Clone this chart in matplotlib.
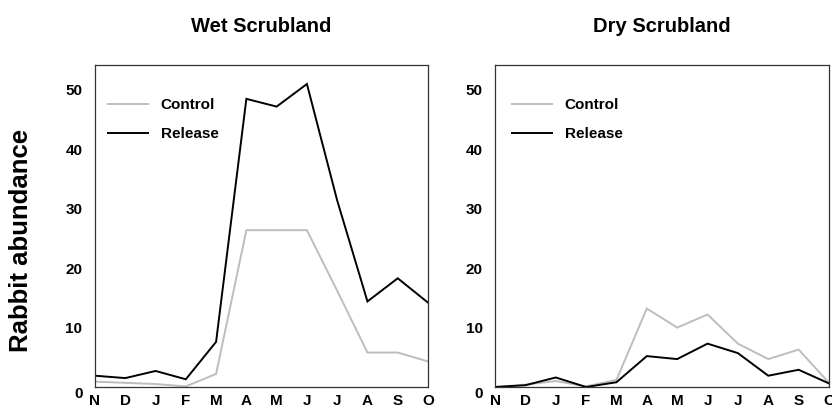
import matplotlib
matplotlib.use("Agg")
import matplotlib.pyplot as plt
import matplotlib.transforms as mtransforms

months = ["N", "D", "J", "F", "M", "A", "M", "J", "J", "A", "S", "O"]
yticks = [0, 10, 20, 30, 40, 50]

wet_control = [0.9, 0.7, 0.5, 0.1, 2.2, 26.4, 26.4, 26.4, 16.2, 5.8, 5.8, 4.3]
wet_release = [1.9, 1.5, 2.7, 1.3, 7.6, 48.5, 47.2, 51.0, 31.4, 14.4, 18.3, 14.2]

dry_control = [0.0, 0.4, 1.0, 0.1, 1.2, 13.2, 10.0, 12.2, 7.3, 4.7, 6.3, 0.7]
dry_release = [0.0, 0.3, 1.6, 0.0, 0.8, 5.2, 4.7, 7.3, 5.7, 1.9, 2.9, 0.6]

titles = ["Wet Scrubland", "Dry Scrubland"]
series_labels = ["Control", "Release"]
ylabel = "Rabbit abundance"

plt.rcParams['font.family'] = ['Liberation Sans', 'DejaVu Sans']
plt.rcParams['font.weight'] = 'bold'

fig = plt.figure(figsize=(8.32, 4.09), dpi=100)
W, H = 832, 409
ax_boxes = [(95, 65, 428, 387), (495, 65, 829, 387)]
legend_x = [13, 17]

data = [(wet_control, wet_release), (dry_control, dry_release)]

for i, (box, (ctrl, rel), title) in enumerate(zip(ax_boxes, data, titles)):
    x0, y0, x1, y1 = box
    ax = fig.add_axes([x0 / W, 1 - y1 / H, (x1 - x0) / W, (y1 - y0) / H])
    xs = list(range(len(months)))
    ax.plot(xs, ctrl, color="#bdbdbd", lw=1.4, label=series_labels[0], solid_joinstyle='miter')
    ax.plot(xs, rel, color="#000000", lw=1.4, label=series_labels[1], solid_joinstyle='miter')
    ax.set_xlim(0, 11)
    ax.set_ylim(0, 54.2)
    ax.set_xticks(xs)
    ax.set_xticklabels(months, fontsize=11, fontweight='bold')
    ax.set_yticks(yticks)
    ax.set_yticklabels([str(v) for v in yticks], fontsize=11, fontweight='bold')
    ax.tick_params(axis='both', length=0)
    ax.tick_params(axis='y', pad=9)
    ax.tick_params(axis='x', pad=5)
    lab0 = ax.get_yticklabels()[0]
    lab0.set_transform(lab0.get_transform() + mtransforms.ScaledTranslation(0, -6 / 100, fig.dpi_scale_trans))
    for s in ax.spines.values():
        s.set_linewidth(0.9)
        s.set_color("#333333")
    ax.set_title(title, fontsize=14.5, fontweight='bold', pad=24)
    leg = ax.legend(loc='upper left', bbox_to_anchor=(legend_x[i] / (x1 - x0), 1 - 33 / (y1 - y0)),
                    frameon=False, fontsize=11, handlelength=2.6, handletextpad=0.85,
                    labelspacing=1.0, borderpad=0, borderaxespad=0)
    for t in leg.get_texts():
        t.set_fontweight('bold')

fig.text(21 / W, 1 - 240 / H, ylabel, rotation=90, fontsize=18.5, fontweight='bold',
         ha='center', va='center')

fig.savefig("out.png", dpi=100)
